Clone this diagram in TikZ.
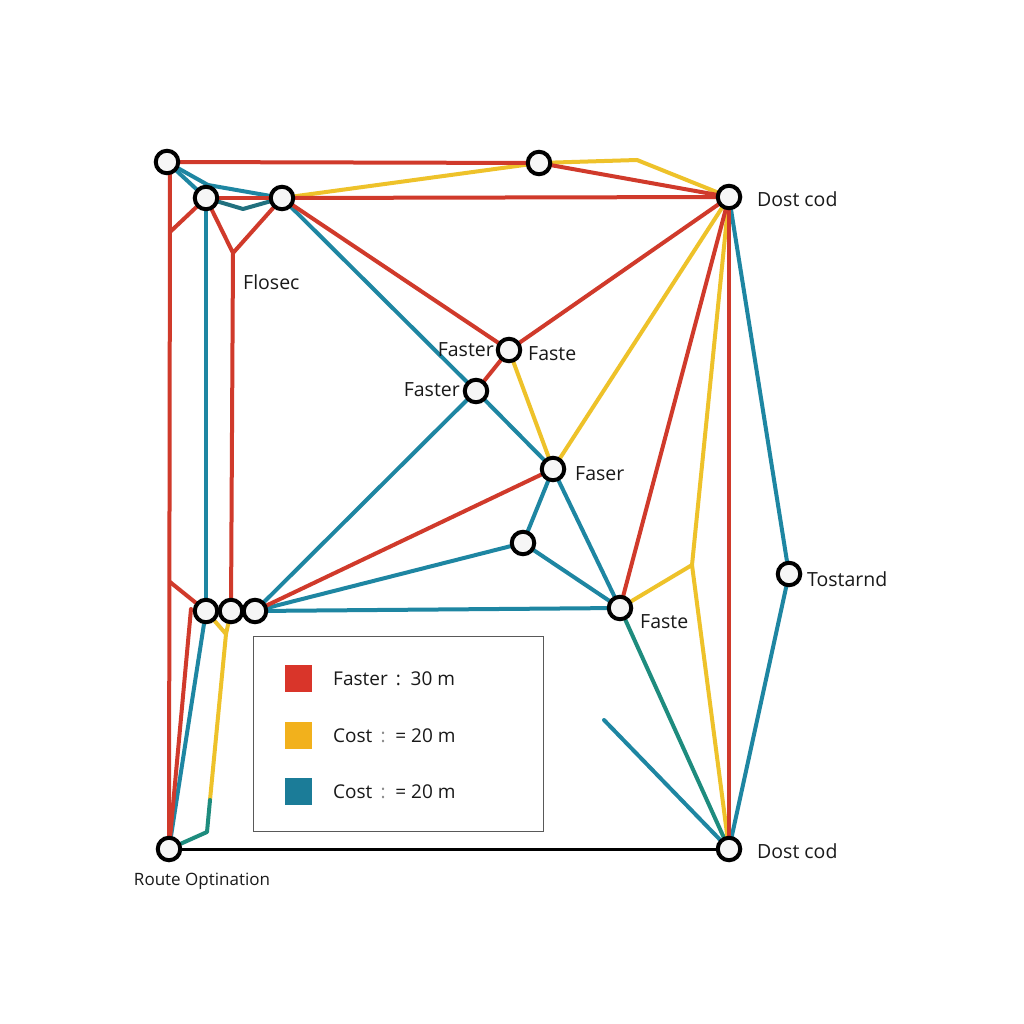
\documentclass[tikz,border=0pt]{standalone}
\usepackage{fontspec}
\setmainfont{Open Sans}
\usetikzlibrary{backgrounds}
\definecolor{rr}{HTML}{D03A2B}
\definecolor{yy}{HTML}{EEC22A}
\definecolor{tt}{HTML}{1E86A2}
\definecolor{td}{HTML}{21707E}
\definecolor{tg}{HTML}{1E8C7E}
\definecolor{lr}{HTML}{D9352A}
\definecolor{ly}{HTML}{F2B11C}
\definecolor{lt}{HTML}{1B7C98}
\begin{document}
\begin{tikzpicture}[x=1pt,y=-1pt,
  stn/.style={circle,draw=black,line width=4pt,fill=gray!7,minimum size=22.5pt,inner sep=0pt},
  lbl/.style={font=\fontsize{19.5}{22}\selectfont,inner sep=1pt,text=black!90},
  rl/.style={draw=rr,line width=4pt,line join=round,line cap=round},
  yl/.style={draw=yy,line width=4pt,line join=round,line cap=round},
  tl/.style={draw=tt,line width=4pt,line join=round,line cap=round},
  gl/.style={draw=tg,line width=4pt,line join=round,line cap=round},
  sq/.style={minimum size=27pt,inner sep=0pt},
  lgt/.style={font=\fontsize{19}{22}\selectfont,anchor=west,inner sep=0pt,text=black!90}]
\useasboundingbox (0,0) rectangle (1024,1024);
% stations
\node[stn] (A) at (167,162) {};
\node[stn] (B) at (206,198) {};
\node[stn] (C) at (282,198) {};
\node[stn] (D) at (539,163) {};
\node[stn] (E) at (729,197) {};
\node[stn] (F) at (509,350) {};
\node[stn] (G) at (476,391) {};
\node[stn] (H) at (553,469) {};
\node[stn] (I) at (523,543) {};
\node[stn] (J) at (206,611) {};
\node[stn] (K) at (231,611) {};
\node[stn] (L) at (255,611) {};
\node[stn] (M) at (620,608) {};
\node[stn] (N) at (789,574) {};
\node[stn] (O) at (169,849) {};
\node[stn] (P) at (729,849) {};
% waypoints
\coordinate (r0) at (170,170);
\coordinate (r1) at (170,232);
\coordinate (r2) at (233,253);
\coordinate (r3) at (170,582);
\coordinate (r4) at (191,609);
\coordinate (y1) at (637,160);
\coordinate (y2) at (692,565);
\coordinate (y3) at (226,634);
\coordinate (y4) at (210,800);
\coordinate (g1) at (207,832);
\coordinate (t1) at (208,185);
\coordinate (t2) at (243,209);
\coordinate (t3) at (604,720);
% labels
\node[lbl,anchor=west] (lE) at (756,199) {Dost cod};
\node[lbl,anchor=west] (lP) at (756,851) {Dost cod};
\node[lbl,anchor=west] (lN) at (806,579) {Tostarnd};
\node[lbl,anchor=west] (lM) at (639,622) {Faste};
\node[lbl,anchor=west] (lH) at (574,474) {Faser};
\node[lbl,anchor=east] (lF1) at (495,350) {Faster};
\node[lbl,anchor=west] (lF2) at (527,354) {Faste};
\node[lbl,anchor=east] (lG) at (461,390) {Faster};
\node[lbl,anchor=west] (lfl) at (242,282) {Flosec};
\node[lbl,font=\fontsize{17}{19}\selectfont] (lO) at (202,881) {Route Optination};
% legend
\node[draw=black!65,line width=1.2pt,minimum width=290pt,minimum height=195pt,anchor=north west,inner sep=0pt] (leg) at (253,636) {};
\node[sq,fill=lr] (s1) at (298,678) {};
\node[sq,fill=ly] (s2) at (298,735) {};
\node[sq,fill=lt] (s3) at (298,791) {};
\node[lgt] (t1l) at (333,679) {Faster \,:\, 30 m};
\node[lgt] (t2l) at (333,736) {Cost \,{\color{black!45}:}\, = 20 m};
\node[lgt] (t3l) at (333,792) {Cost \,{\color{black!45}:}\, = 20 m};
\begin{pgfonlayer}{background}
\fill[white] (0,0) rectangle (1024,1024);
% black base
\draw[black,line width=3pt] (O) -- (P);
% teal
\draw[tl] (A) -- (B);
\draw[tl] (A) -- (t1) -- (C);
\draw[tl,draw=td] (B) -- (t2) -- (C);
\draw[tl] (B) -- (J);
\draw[tl] (C) -- (G);
\draw[tl] (G) -- (H);
\draw[tl] (G) -- (L);
\draw[tl] (H) -- (I);
\draw[tl] (H) -- (M);
\draw[tl] (I) -- (L);
\draw[tl] (I) -- (M);
\draw[tl] (L) -- (M);
\draw[gl] (M) -- (P);
\draw[tl] (t3) -- (P);
\draw[tl] (E) -- (N);
\draw[tl] (N) -- (P);
\draw[tl] (J) -- (O);
% yellow
\draw[yl] (C) -- (D);
\draw[yl] (D) -- (y1) -- (E);
\draw[yl] (F) -- (H);
\draw[yl] (H) -- (E);
\draw[yl] (E) -- (y2) -- (P);
\draw[yl] (M) -- (y2);
\draw[yl] (J) -- (y3) -- (K);
\draw[yl] (y3) -- (y4);
\draw[gl] (y4) -- (g1) -- (O);
% red
\draw[rl] (A) -- (D);
\draw[rl] (D) -- (E);
\draw[rl] (B) -- (C);
\draw[rl] (C) -- (E);
\draw[rl] (r0) -- (O);
\draw[rl] (r1) -- (B);
\draw[rl] (B) -- (r2) -- (C);
\draw[rl] (r2) -- (K);
\draw[rl] (C) -- (F);
\draw[rl] (F) -- (E);
\draw[rl] (F) -- (G);
\draw[rl] (H) -- (L);
\draw[rl] (M) -- (E);
\draw[rl] (E) -- (P);
\draw[rl] (r3) -- (J);
\draw[rl] (r4) -- (O);
\end{pgfonlayer}
\end{tikzpicture}
\end{document}
